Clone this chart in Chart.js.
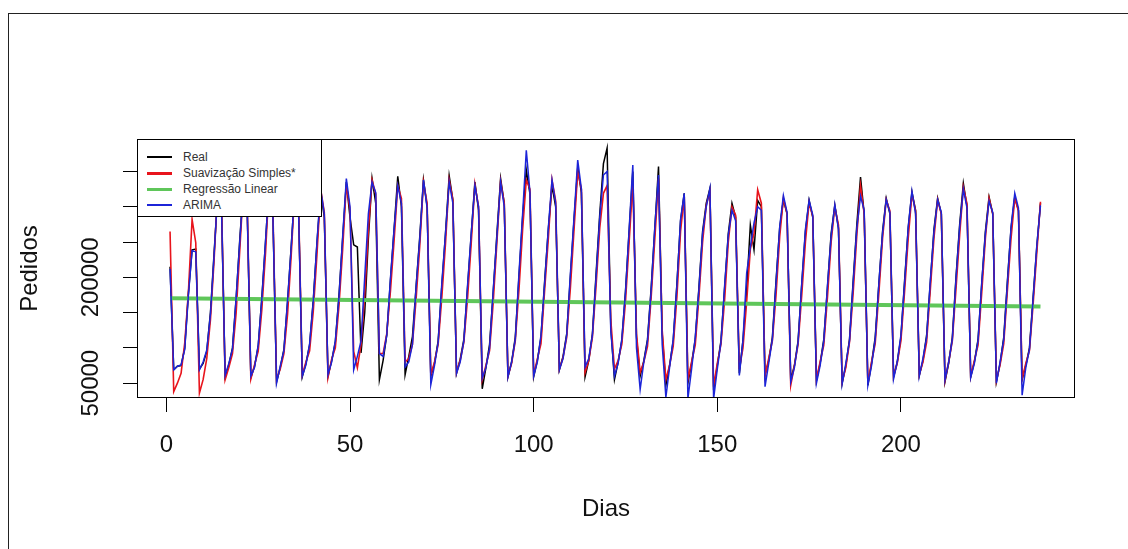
<!DOCTYPE html>
<html lang="pt">
  <head>
    <meta charset="UTF-8" />
    <title>Pedidos por dia</title>
    <script src="https://cdn.jsdelivr.net/npm/chart.js@4"></script>
    <style>
      body {
        margin: 0;
        background: #fff;
        font-family: "Liberation Sans", Arial, sans-serif;
      }
      .frame {
        position: absolute;
        left: 8px;
        top: 13px;
        width: 1120px;
        height: 536px;
        border-top: 1px solid #222;
        border-left: 1px solid #222;
        box-sizing: border-box;
      }
      .wrap {
        position: absolute;
        left: 0;
        top: 0;
        width: 1128px;
        height: 549px;
      }
      .legend {
        position: absolute;
        width: 185px;
        height: 78px;
        box-sizing: border-box;
        background: #fff;
        border: 1px solid #000;
        font-size: 12px;
        color: #333;
      }
      .legend .row {
        position: absolute;
        left: 0;
        width: 100%;
        height: 14px;
        line-height: 14px;
      }
      .legend .swatch {
        position: absolute;
        left: 9px;
        width: 25px;
      }
      .legend .label {
        position: absolute;
        left: 45px;
        white-space: nowrap;
      }
    </style>
  </head>
  <body>
    <div class="frame"></div>
    <div class="wrap"><canvas id="chart"></canvas></div>
    <div id="legend" class="legend"></div>

    <script>
      // values in thousands of pedidos, one per day (dias 1..238)
      const real = [
        215, 69, 74, 75, 100, 178, 239,
        240, 70, 78, 95, 150, 235, 318,
        305, 59, 76, 100, 170, 255, 328,
        300, 58, 74, 102, 172, 250, 335,
        290, 52, 72, 98, 165, 245, 326,
        295, 59, 78, 104, 168, 248, 322,
        285, 60, 82, 108, 175, 255, 335,
        285, 246, 243, 93, 150, 255, 340,
        305, 55, 82, 118, 195, 268, 343,
        300, 62, 88, 116, 187, 258, 338,
        300, 60, 78, 110, 188, 262, 344,
        310, 64, 84, 112, 185, 260, 335,
        295, 42, 72, 105, 180, 262, 340,
        305, 59, 80, 115, 200, 285, 352,
        318, 59, 82, 115, 195, 268, 330,
        300, 69, 88, 120, 200, 282, 355,
        320, 59, 82, 120, 205, 290, 361,
        383, 130, 55, 80, 110, 180, 265,
        350, 115, 60, 82, 112, 185, 270,
        357, 120, 47, 75, 110, 190, 280,
        319, 50, 78, 112, 185, 265, 305,
        326, 40, 75, 110, 185, 262, 305,
        285, 64, 111, 182, 274, 239, 309,
        300, 62, 82, 115, 195, 270, 310,
        290, 55, 75, 110, 190, 265, 309,
        285, 54, 78, 112, 185, 262, 302,
        270, 50, 75, 112, 195, 275, 342,
        290, 47, 78, 115, 190, 265, 312,
        290, 59, 80, 115, 195, 270, 321,
        295, 61, 82, 118, 192, 268, 312,
        290, 52, 78, 115, 200, 275, 333,
        300, 59, 80, 112, 190, 265, 314,
        290, 52, 78, 115, 195, 270, 314,
        295, 55, 75, 100, 172, 243, 305
      ];

      const suavizacao = [
        265, 38, 50, 64, 107, 180, 282,
        249, 36, 55, 85, 140, 225, 330,
        310, 55, 72, 92, 150, 240, 332,
        305, 56, 76, 95, 155, 235, 336,
        295, 55, 70, 92, 148, 232, 328,
        300, 62, 80, 96, 152, 232, 325,
        292, 58, 84, 100, 160, 240, 332,
        295, 95, 72, 105, 175, 268, 338,
        318, 92, 92, 120, 180, 252, 330,
        312, 80, 85, 105, 170, 245, 335,
        305, 62, 80, 105, 172, 248, 338,
        310, 65, 82, 108, 170, 248, 332,
        300, 55, 75, 96, 165, 250, 336,
        305, 60, 78, 110, 182, 268, 338,
        325, 62, 84, 106, 182, 255, 338,
        308, 70, 86, 115, 185, 268, 350,
        325, 65, 82, 115, 188, 270, 319,
        330, 140, 70, 82, 105, 165, 250,
        335, 120, 65, 80, 102, 172, 255,
        340, 125, 55, 75, 102, 172, 265,
        315, 55, 80, 104, 172, 250, 302,
        322, 45, 78, 105, 168, 250, 300,
        288, 70, 100, 165, 240, 262, 324,
        305, 60, 85, 110, 175, 258, 312,
        290, 47, 75, 105, 175, 250, 306,
        286, 56, 80, 104, 172, 250, 300,
        274, 52, 72, 108, 178, 260, 330,
        290, 50, 80, 106, 178, 255, 310,
        294, 60, 78, 110, 180, 256, 318,
        294, 62, 80, 108, 182, 256, 310,
        290, 54, 80, 110, 184, 260, 328,
        304, 60, 82, 104, 178, 255, 312,
        290, 54, 76, 106, 182, 256, 312,
        294, 56, 78, 96, 162, 235, 307
      ];

      const arima = [
        212, 69, 74, 76, 98, 175, 238,
        236, 69, 80, 97, 148, 232, 322,
        300, 61, 78, 98, 172, 252, 330,
        296, 60, 72, 104, 170, 252, 332,
        288, 50, 74, 96, 168, 243, 330,
        292, 60, 76, 106, 166, 250, 325,
        290, 62, 80, 110, 172, 258, 340,
        300, 69, 88, 110, 200, 290, 335,
        320, 92, 88, 118, 198, 268, 330,
        305, 73, 80, 105, 187, 255, 338,
        298, 48, 75, 108, 192, 262, 335,
        305, 64, 80, 110, 188, 262, 330,
        300, 57, 72, 100, 182, 258, 335,
        300, 59, 80, 112, 205, 290, 380,
        320, 60, 80, 118, 192, 270, 338,
        305, 69, 85, 118, 205, 285, 366,
        325, 73, 85, 118, 200, 285, 345,
        350, 125, 60, 78, 112, 178, 268,
        359, 100, 41, 80, 110, 182, 272,
        345, 105, 30, 72, 112, 188, 282,
        319, 28, 70, 115, 183, 262, 300,
        326, 28, 70, 108, 188, 260, 295,
        280, 61, 111, 206, 243, 277, 300,
        295, 45, 78, 112, 192, 272, 316,
        292, 52, 72, 108, 192, 268, 309,
        288, 50, 75, 110, 188, 258, 303,
        268, 49, 78, 110, 192, 270, 315,
        295, 47, 75, 112, 192, 262, 310,
        292, 56, 80, 118, 192, 272, 322,
        290, 60, 85, 115, 195, 265, 310,
        292, 55, 80, 112, 198, 272, 325,
        298, 58, 78, 110, 192, 262, 308,
        292, 50, 80, 112, 192, 272, 319,
        298, 33, 72, 98, 170, 245, 302
      ];

      // regression line, start and end (dia, thousands)
      const regressaoDias = [1, 238];
      const regressao = [170.5, 158.6];

      const xTicks = [0, 50, 100, 150, 200];
      const yTicks = [50000, 100000, 150000, 200000, 250000, 300000, 350000];
      const yTickLabels = [50000, 200000];

      const legendItems = [
        { label: "Real", color: "#000000", height: 1.5 },
        { label: "Suavização Simples*", color: "#e8141c", height: 3 },
        { label: "Regressão Linear", color: "#5fc65a", height: 3 },
        { label: "ARIMA", color: "#1c24d8", height: 1.5 }
      ];

      const dias = real.map((_, i) => i + 1);
      const toPoints = (arr, xs) => arr.map((v, i) => ({ x: xs[i], y: v * 1000 }));

      const AXIS_FONT = { family: '"Liberation Sans", Arial, sans-serif', size: 24 };

      // rotated y labels (R style) and the plot box
      const rStylePlugin = {
        id: "rStyle",
        afterDraw(chart) {
          const { ctx, chartArea, scales } = chart;
          ctx.save();
          ctx.font = '24px "Liberation Sans", Arial, sans-serif';
          ctx.fillStyle = "#111";
          ctx.textAlign = "center";
          ctx.textBaseline = "middle";
          yTickLabels.forEach(v => {
            ctx.save();
            ctx.translate(chartArea.left - 46, scales.y.getPixelForValue(v));
            ctx.rotate(-Math.PI / 2);
            ctx.fillText(String(v), 0, 0);
            ctx.restore();
          });
          ctx.strokeStyle = "#000";
          ctx.lineWidth = 1;
          ctx.strokeRect(chartArea.left + 0.5, chartArea.top + 0.5,
            chartArea.width - 1, chartArea.height - 1);
          ctx.restore();
        }
      };

      const chart = new Chart(document.getElementById("chart"), {
        type: "line",
        data: {
          datasets: [
            {
              label: "Real",
              data: toPoints(real, dias),
              borderColor: "#000000",
              borderWidth: 1.5,
              order: 3
            },
            {
              label: "Suavização Simples*",
              data: toPoints(suavizacao, dias),
              borderColor: "#e8141c",
              borderWidth: 1.6,
              order: 2
            },
            {
              label: "Regressão Linear",
              data: toPoints(regressao, regressaoDias),
              borderColor: "#5fc65a",
              borderWidth: 4,
              order: 1
            },
            {
              label: "ARIMA",
              data: toPoints(arima, dias),
              borderColor: "#1c24d8",
              borderWidth: 1.5,
              order: 0
            }
          ]
        },
        options: {
          responsive: true,
          maintainAspectRatio: false,
          animation: false,
          elements: {
            point: { radius: 0 },
            line: { tension: 0, fill: false }
          },
          layout: {
            padding: { top: 139, right: 53, bottom: 0, left: 0 }
          },
          plugins: {
            legend: { display: false },
            tooltip: { enabled: false }
          },
          scales: {
            x: {
              type: "linear",
              min: -8,
              max: 247.4,
              afterBuildTicks: s => { s.ticks = xTicks.map(v => ({ value: v })); },
              afterFit: s => { s.height = 151; },
              border: { display: false },
              grid: {
                drawOnChartArea: false,
                drawTicks: true,
                tickLength: 14,
                color: "#000",
                tickColor: "#000"
              },
              ticks: {
                font: AXIS_FONT,
                color: "#111",
                padding: 19,
                maxRotation: 0,
                autoSkip: false
              },
              title: {
                display: true,
                text: "Dias",
                font: AXIS_FONT,
                color: "#111",
                padding: { top: 0, bottom: 25 }
              }
            },
            y: {
              type: "linear",
              min: 29000,
              max: 396000,
              afterBuildTicks: s => { s.ticks = yTicks.map(v => ({ value: v })); },
              afterFit: s => { s.width = 137; },
              border: { display: false },
              grid: {
                drawOnChartArea: false,
                drawTicks: true,
                tickLength: 14,
                color: "#000",
                tickColor: "#000"
              },
              ticks: { display: false },
              title: {
                display: true,
                text: "Pedidos",
                font: AXIS_FONT,
                color: "#111",
                padding: { top: 16, bottom: 0 }
              }
            }
          }
        },
        plugins: [rStylePlugin]
      });

      // R-style legend box in the top-left corner of the plot
      const legend = document.getElementById("legend");
      legend.style.left = chart.chartArea.left + "px";
      legend.style.top = chart.chartArea.top + "px";
      legendItems.forEach((item, i) => {
        const row = document.createElement("div");
        row.className = "row";
        row.style.top = (10 + i * 16) + "px";
        const sw = document.createElement("span");
        sw.className = "swatch";
        sw.style.height = item.height + "px";
        sw.style.top = (7 - item.height / 2) + "px";
        sw.style.background = item.color;
        const lb = document.createElement("span");
        lb.className = "label";
        lb.textContent = item.label;
        row.appendChild(sw);
        row.appendChild(lb);
        legend.appendChild(row);
      });
    </script>
  </body>
</html>
